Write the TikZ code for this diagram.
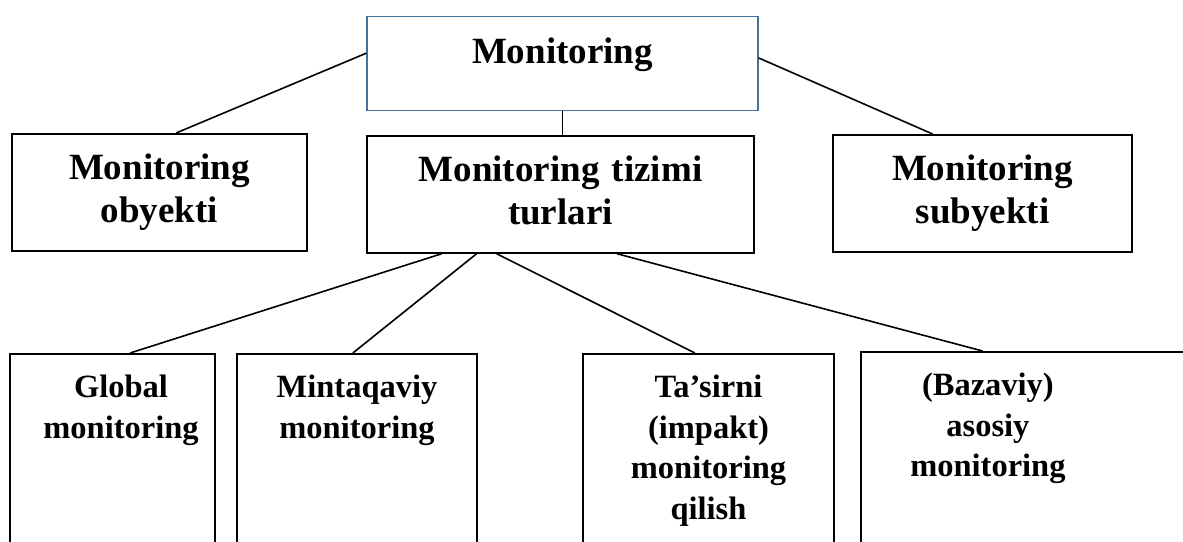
\documentclass[tikz,border=0pt]{standalone}
\usepackage{fontspec}
\setmainfont{Liberation Serif}
\usetikzlibrary{calc}
\definecolor{boxblue}{HTML}{41719C}
\newcommand{\lowtext}[2]{\parbox[t]{#1}{\centering #2}}
\tikzset{
	box/.style = {rectangle, draw=black, line width=1.8pt, inner sep=0pt, align=center, anchor=north, font=\fontsize{37}{43}\selectfont\bfseries},
	topbox/.style = {box, draw=boxblue, line width=1.3pt, text width=391pt, text height=47pt, text depth=47pt},
	midbox/.style = {box, text height=46pt, text depth=71pt},
	lowbox/.style = {box, text height=44pt, text depth=220pt, font=\fontsize{32.5}{40.5}\selectfont\bfseries},
	link/.style = {draw=black, line width=1.6pt}
}
\begin{document}
\begin{tikzpicture}[x=1pt, y=-1pt]
		\useasboundingbox (0,0) rectangle (1183,541);
		\clip (0,0) rectangle (1183,541);
		\node [topbox] (monitoring) at (562.5,16) {Monitoring};
		\node [midbox, text width=295pt] (obyekti) at (159.5,133) {Monitoring\\ obyekti};
		\node [midbox, text width=387pt] (turlari) at (560.5,135) {Monitoring tizimi\\ turlari};
		\node [midbox, text width=299pt] (subyekti) at (982.5,134) {Monitoring\\ subyekti};
		\node [lowbox, text width=205pt, align=left] (global) at (112.5,353) {\lowtext{222pt}{Global\\ monitoring}};
		\node [lowbox, text width=240pt] (mintaqa) at (357,353) {Mintaqaviy\\ monitoring};
		\node [lowbox, text width=251pt] (tasir) at (708.5,353) {Ta’sirni\\ (impakt)\\ monitoring\\ qilish};
		\node [lowbox, text width=380pt, align=left, anchor=north west] (bazaviy) at (860,351) {\lowtext{254pt}{(Bazaviy)\\ asosiy\\ monitoring}};
		\draw [link] ($(monitoring.north west)!0.39!(monitoring.south west)$) -- ($(obyekti.north west)!0.556!(obyekti.north east)$);
		\draw [link] ($(monitoring.north east)!0.44!(monitoring.south east)$) -- ($(subyekti.north west)!0.334!(subyekti.north east)$);
		\draw [link] (monitoring.south) -- (monitoring.south |- turlari.north);
		\draw [link] ($(turlari.south west)!0.194!(turlari.south east)$) -- ($(global.north west)!0.585!(global.north east)$);
		\draw [link] ($(turlari.south west)!0.284!(turlari.south east)$) -- ($(mintaqa.north west)!0.483!(mintaqa.north east)$);
		\draw [link] ($(turlari.south west)!0.336!(turlari.south east)$) -- ($(tasir.north west)!0.446!(tasir.north east)$);
		\draw [link] ($(turlari.south west)!0.646!(turlari.south east)$) -- ($(bazaviy.north west)!0.321!(bazaviy.north east)$);
\end{tikzpicture}
\end{document}
